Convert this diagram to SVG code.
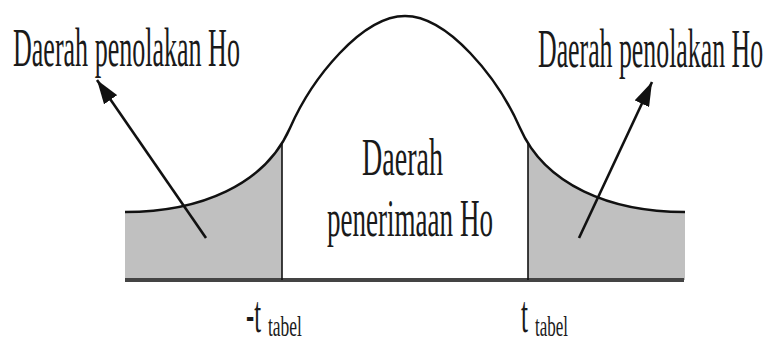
<svg xmlns="http://www.w3.org/2000/svg" width="771" height="341" viewBox="0 0 771 341">
<style>
.lbl{font-family:"Liberation Serif","Times New Roman",serif;fill:#1a1a1a;}
.big{font-size:54px;}
.mid{font-size:52px;}
.sub{font-size:30px;}
.curve{fill:none;stroke:#111;stroke-width:2.5;}
.shade{fill:#c0c0c0;stroke:none;}
.vline{stroke:#111;stroke-width:1.6;}
.axis{stroke:#444;stroke-width:4;}
.arrow{stroke:#111;stroke-width:2.6;fill:none;}
</style>
<defs>
<marker id="ah" markerUnits="userSpaceOnUse" markerWidth="26" markerHeight="16" refX="24" refY="8" orient="auto">
<path d="M0,0 L24,8 L0,16 z" fill="#111"/>
</marker>
<path id="area" d="M125,212 C200,212 265,185 290,128 C312,78 362,16 405,16 C448,16 498,78 520,128 C545,185 610,212 685,212 L685,280 L125,280 Z"/>
<clipPath id="cl"><rect x="120" y="0" width="162" height="300"/></clipPath>
<clipPath id="cr"><rect x="528" y="0" width="160" height="300"/></clipPath>
</defs>
<rect width="771" height="341" fill="#fff"/>
<g id="left-region">
<use href="#area" class="shade" clip-path="url(#cl)"/>
</g>
<g id="right-region">
<use href="#area" class="shade" clip-path="url(#cr)"/>
</g>
<g id="curve">
<path class="curve" d="M125,212 C200,212 265,185 290,128 C312,78 362,16 405,16 C448,16 498,78 520,128 C545,185 610,212 685,212"/>
</g>
<g id="axis">
<line class="axis" x1="125" y1="280" x2="684" y2="280"/>
<line class="vline" x1="282" y1="143" x2="282" y2="280"/>
<line class="vline" x1="528" y1="143" x2="528" y2="280"/>
</g>
<g id="connectors">
<line class="arrow" x1="206" y1="238" x2="97" y2="80" marker-end="url(#ah)"/>
<line class="arrow" x1="579" y1="238" x2="652" y2="82" marker-end="url(#ah)"/>
</g>
<g id="label-left">
<text class="lbl big" transform="translate(13,66) scale(0.482,1)" x="0" y="0" textLength="470.8" lengthAdjust="spacingAndGlyphs">Daerah penolakan Ho</text>
</g>
<g id="label-right">
<text class="lbl big" transform="translate(538,67) scale(0.478,1)" x="0" y="0" textLength="470.8" lengthAdjust="spacingAndGlyphs">Daerah penolakan Ho</text>
</g>
<g id="label-center">
<text class="lbl mid" transform="translate(362,175) scale(0.54,1)" x="0" y="0" textLength="150.1" lengthAdjust="spacingAndGlyphs">Daerah</text>
<text class="lbl mid" transform="translate(327,236) scale(0.52,1)" x="0" y="0" textLength="319.1" lengthAdjust="spacingAndGlyphs">penerimaan Ho</text>
</g>
<g id="label-neg-t">
<text class="lbl mid" transform="translate(246,332) scale(0.472,1)" x="0" y="0">-t</text>
<text class="lbl sub" transform="translate(268,336) scale(0.583,1)" x="0" y="0" textLength="58.3" lengthAdjust="spacingAndGlyphs">tabel</text>
</g>
<g id="label-pos-t">
<text class="lbl mid" transform="translate(521,332) scale(0.483,1)" x="0" y="0">t</text>
<text class="lbl sub" transform="translate(535,336) scale(0.566,1)" x="0" y="0" textLength="58.3" lengthAdjust="spacingAndGlyphs">tabel</text>
</g>
</svg>
